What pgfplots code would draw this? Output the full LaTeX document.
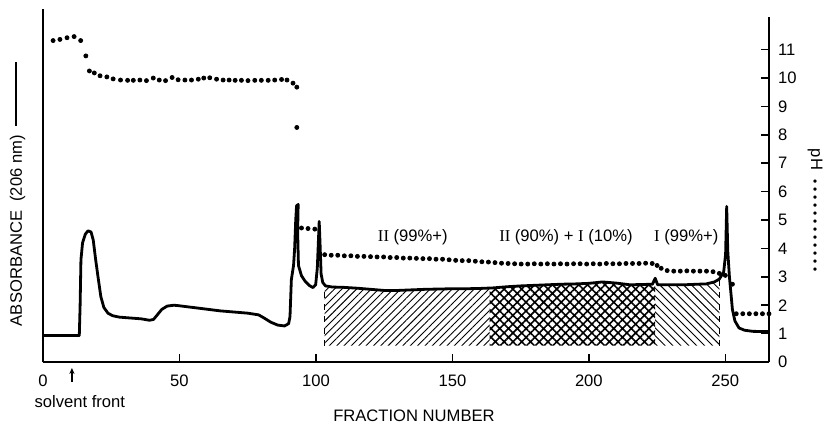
\documentclass[border=0pt]{standalone}
\usepackage{pgfplots}
\pgfplotsset{compat=1.18}
\usepackage{fontspec}
\setmainfont{Liberation Sans}
\newfontfamily\rom{Liberation Serif}
\usetikzlibrary{patterns.meta,arrows.meta}

\newcommand\bd{\textbullet\hspace{1.9pt}}

\begin{document}
\begin{tikzpicture}[font=\fontsize{8.3}{10}\selectfont]
\begin{axis}[
  at={(0,0)}, anchor=origin,
  scale only axis, width=363pt, height=172.5pt,
  xmin=0, xmax=266, ymin=0, ymax=12.15,
  axis x line=bottom, axis y line=right,
  axis line style={-, line width=1pt},
  xtick={0,50,...,250}, ytick={0,1,...,11},
  tick align=inside, major tick length=4pt,
  tick style={line width=0.8pt, black},
  xticklabel style={yshift=-3pt},
  yticklabel style={xshift=1pt},
  /pgf/number format/assume math mode=true,
  clip=false,
]
% hatched fractions
\addplot[draw=none, pattern={Lines[angle=45,distance=2.6pt,line width=0.45pt]}] coordinates {
  (103.2,0.58) (103.2,2.66) (106,2.64) (110,2.63) (115,2.60) (120,2.56) (125,2.52)
  (130,2.52) (135,2.54) (140,2.56) (145,2.57) (150,2.58) (155,2.58) (160,2.59)
  (163.6,2.60) (163.6,0.58)} -- cycle;
\addplot[draw=none, pattern={Hatch[angle=45,distance=3.1pt,line width=0.8pt]}] coordinates {
  (163.6,0.58) (163.6,2.60) (165,2.61) (170,2.65) (175,2.68) (180,2.70) (185,2.72)
  (190,2.74) (195,2.75) (200,2.77) (205,2.82) (210,2.78) (215,2.72) (220,2.73)
  (223.3,2.74) (224.3,2.95) (224.3,0.58)} -- cycle;
\addplot[draw=none, pattern={Lines[angle=-45,distance=2.8pt,line width=0.45pt]}] coordinates {
  (224.3,0.58) (224.3,2.95) (225.2,2.72) (230,2.72) (235,2.72) (240,2.74) (243,2.75)
  (246,2.82) (247.8,2.92) (247.8,0.58)} -- cycle;
\addplot[dashed, line width=0.5pt] coordinates {(103.2,0.58) (103.2,2.66)};
\addplot[dashed, line width=0.5pt] coordinates {(247.8,0.58) (247.8,2.92)};

% absorbance (206 nm)
\addplot[line width=1.4pt, line join=round] coordinates {
  (0,0.93) (13.3,0.93) (13.6,2.0) (13.9,3.6) (14.5,4.2) (15.5,4.5) (16.5,4.62)
  (17.6,4.58) (18.4,4.3) (19.3,3.6) (20.3,2.9) (21.2,2.3) (22.3,1.92) (23.8,1.72)
  (25.5,1.63) (28,1.58) (32,1.55) (36,1.52) (39,1.47) (40.5,1.50) (41.8,1.65)
  (43.5,1.85) (45.5,1.97) (48,2.0) (50,1.98) (55,1.92) (60,1.86) (65,1.80)
  (70,1.76) (75,1.72) (79,1.66) (81,1.55) (83.5,1.40) (86,1.30) (88.5,1.27)
  (90,1.35) (90.5,1.6) (91,2.9) (91.8,3.4) (92.2,4.0) (92.6,5.0) (92.9,5.5)
  (93.5,5.55) (93.3,4.6) (93.6,3.4) (94.7,3.04) (96,2.85) (97.5,2.7) (98.9,2.62)
  (99.9,2.72) (100.5,3.3) (101.2,4.95) (101.5,4.2) (101.9,3.1) (102.5,2.8)
  (103.5,2.68) (106,2.64) (110,2.63) (115,2.60) (120,2.56) (125,2.52) (130,2.52)
  (135,2.54) (140,2.56) (145,2.57) (150,2.58) (155,2.58) (160,2.59) (165,2.61)
  (170,2.65) (175,2.68) (180,2.70) (185,2.72) (190,2.74) (195,2.75) (200,2.77)
  (205,2.82) (210,2.78) (215,2.72) (220,2.73) (223.3,2.74) (224.3,2.95)
  (225.2,2.72) (230,2.72) (235,2.72) (240,2.74) (243,2.75) (246,2.82) (247.8,2.92)
  (249.4,3.17) (250.1,3.8) (250.5,5.48) (250.9,3.9) (251.5,3.0) (252.6,1.85)
  (253.5,1.45) (255,1.2) (257,1.12) (260,1.08) (266,1.07)};

% pH
\addplot[only marks, mark=*, mark size=1pt, black] coordinates {
  (3.7,11.32) (6.2,11.36) (8.8,11.42) (11.4,11.46) (13.8,11.32) (15.7,10.78)
  (17.0,10.25) (18.8,10.18) (20.9,10.08) (23.4,10.04) (25.7,9.97) (28.4,9.93)
  (31.0,9.92) (33.1,9.92) (35.5,9.93) (37.9,9.91) (40.4,10.0) (42.6,9.93)
  (44.9,9.91) (47.3,10.02) (49.5,9.94) (52.0,9.93) (54.4,9.93) (56.9,9.96)
  (58.9,10.0) (61.1,10.01) (63.6,9.96) (66.0,9.93) (68.2,9.93) (70.4,9.92)
  (72.7,9.92) (75.1,9.91) (77.6,9.92) (80.0,9.92) (82.5,9.92) (84.9,9.93)
  (87.4,9.95) (89.4,9.93) (91.6,9.82) (93.0,9.68) (93.0,8.26)
  (94.7,4.72) (97.1,4.70) (99.6,4.68)
  (103.2,3.78) (105.6,3.76) (108.0,3.76) (110.4,3.74) (112.8,3.74) (115.2,3.72)
  (117.6,3.72) (120.0,3.71) (122.4,3.70) (124.8,3.70) (127.2,3.68) (129.6,3.68)
  (132.0,3.66) (134.4,3.66) (136.8,3.65) (139.2,3.64) (141.6,3.64) (144.0,3.62)
  (146.4,3.62) (148.8,3.60) (151.2,3.58) (153.6,3.57) (156.0,3.57) (158.4,3.55)
  (160.8,3.53) (163.2,3.52) (165.6,3.50) (168.0,3.48) (170.4,3.47) (172.8,3.46)
  (175.2,3.45) (177.6,3.45) (180.0,3.46) (182.4,3.45) (184.8,3.46) (187.2,3.45)
  (189.6,3.46) (192.0,3.45) (194.4,3.46) (196.8,3.46) (199.2,3.45) (201.6,3.46)
  (204.0,3.45) (206.4,3.47) (208.8,3.46) (211.2,3.46) (213.6,3.47) (216.0,3.47)
  (218.4,3.47) (220.8,3.48) (223.2,3.47) (225.0,3.40) (226.5,3.30) (228.7,3.22)
  (231.1,3.20) (233.5,3.20) (235.9,3.21) (238.3,3.20) (240.7,3.20) (243.1,3.20)
  (245.5,3.18) (247.8,3.12) (250.0,3.05) (252.6,2.74)
  (254.0,1.70) (256.4,1.70) (258.8,1.70) (261.2,1.70) (263.6,1.70) (266.0,1.70)};

% left axis line (no top line in the original)
\draw[line width=1pt] (axis cs:0,0) -- (axis cs:0,12.42);

\node at (axis cs:135.5,4.38) {{\rom II} (99\%+)};
\node at (axis cs:191.6,4.38) {{\rom II} (90\%) + {\rom I} (10\%)};
\node at (axis cs:235.7,4.38) {{\rom I} (99\%+)};

\node[rotate=90] at ([xshift=-12.75pt]rel axis cs:0,0.487)
  {ABSORBANCE\ \ (206 nm)\ \ \rule[0.55ex]{32pt}{1pt}};
\node[rotate=-90] at ([xshift=23pt]rel axis cs:1,0.44)
  {pH\ \ {\fontsize{6}{6}\selectfont\bd\bd\bd\bd\bd\bd\bd\bd\bd\bd\bd\textbullet}};
\node at ([yshift=-27pt]rel axis cs:0.511,0) {FRACTION NUMBER};
\node at ([yshift=-20pt]axis cs:13.5,0) {solvent front};
\draw[-{Stealth[length=3pt,width=2.6pt]}, line width=0.7pt]
  ([yshift=-10pt]axis cs:10.6,0) -- ([yshift=-3pt]axis cs:10.6,0);
\end{axis}
\pgfresetboundingbox
\path (-21.5pt,-31.5pt) rectangle (391.5pt,181pt);
\end{tikzpicture}
\end{document}
